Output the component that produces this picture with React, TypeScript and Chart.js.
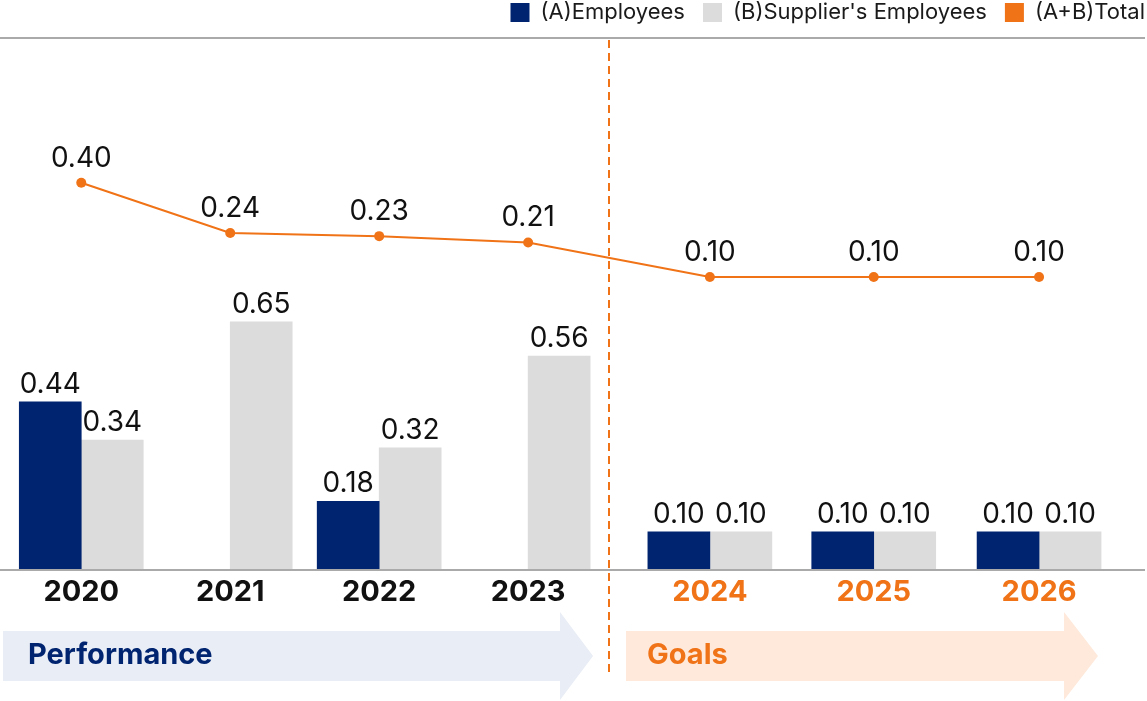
import React, { useEffect, useRef } from 'react';
import { Chart, registerables } from 'chart.js';

Chart.register(...registerables);

// ---- data ----
const categories = ['2020', '2021', '2022', '2023', '2024', '2025', '2026'];
const employees: (number | null)[] = [0.44, null, 0.18, null, 0.1, 0.1, 0.1];
const supplierEmployees: (number | null)[] = [0.34, 0.65, 0.32, 0.56, 0.1, 0.1, 0.1];
const totals: (number | null)[] = [0.4, 0.24, 0.23, 0.21, 0.1, 0.1, 0.1];
const seriesNames = ['(A)Employees', "(B)Supplier's Employees", '(A+B)Total'];
const phaseLabels = ['Performance', 'Goals'];
const performanceCount = 4;

// ---- layout (axis slots: performance years then goal years, wider spacing) ----
const slotPositions = [0, 1, 2, 3, 4.22, 5.32, 6.43];
const dividerAt = 3.54;
const CANVAS_W = 1147;
const CANVAS_H = 701;
const RIGHT_PAD = -16;
const X_MIN = -0.512;
const X_MAX = 7.121;

const NAVY = '#00246F';
const LIGHT = '#DCDCDC';
const ORANGE = '#F07317';
const RULE = '#AAAAAA';
const FONT = 'Inter';

const toPoints = (vals: (number | null)[]) =>
  vals.map((v, i) => ({ x: slotPositions[i], y: v }));

const valueLabels = {
  id: 'valueLabels',
  afterDatasetsDraw(chart: any) {
    const { ctx } = chart;
    ctx.save();
    ctx.font = `28px ${FONT}`;
    ctx.fillStyle = '#111111';
    ctx.textAlign = 'center';
    ctx.textBaseline = 'alphabetic';
    chart.data.datasets.forEach((ds: any, di: number) => {
      const meta = chart.getDatasetMeta(di);
      const isLine = ds.type === 'line';
      meta.data.forEach((el: any, i: number) => {
        const v = ds.data[i].y;
        if (v === null || v === undefined) return;
        const { x, y } = el.getProps(['x', 'y'], true);
        ctx.fillText(v.toFixed(2), x, y - (isLine ? 16 : 9));
      });
    });
    ctx.restore();
  },
};

function arrow(ctx: any, x0: number, headX: number, tipX: number, top: number, bottom: number, headTop: number, headBottom: number) {
  const mid = (headTop + headBottom) / 2;
  ctx.beginPath();
  ctx.moveTo(x0, top);
  ctx.lineTo(headX, top);
  ctx.lineTo(headX, headTop);
  ctx.lineTo(tipX, mid);
  ctx.lineTo(headX, headBottom);
  ctx.lineTo(headX, bottom);
  ctx.lineTo(x0, bottom);
  ctx.closePath();
  ctx.fill();
}

const decorations = {
  id: 'decorations',
  afterDraw(chart: any) {
    const { ctx, chartArea, scales } = chart;
    const w = CANVAS_W;
    const divider = Math.round(scales.x.getPixelForValue(dividerAt));
    const base = chartArea.bottom;
    const bandTop = base + 61;
    const bandBottom = base + 111;
    const headTop = base + 42;
    const headBottom = base + 130;
    ctx.save();
    // top rule and baseline
    ctx.fillStyle = RULE;
    ctx.fillRect(0, 37, w - 2, 2);
    ctx.fillRect(0, Math.round(base) - 1, w - 2, 2);
    // arrows
    ctx.fillStyle = '#E8EDF6';
    arrow(ctx, 3, divider - 49, divider - 16, bandTop, bandBottom, headTop, headBottom);
    ctx.fillStyle = '#FEE9DB';
    arrow(ctx, divider + 17, w - 83, w - 49, bandTop, bandBottom, headTop, headBottom);
    ctx.font = `bold 29px ${FONT}`;
    ctx.textBaseline = 'middle';
    ctx.textAlign = 'left';
    ctx.fillStyle = NAVY;
    ctx.fillText(phaseLabels[0], 28, (bandTop + bandBottom) / 2 - 1);
    ctx.fillStyle = ORANGE;
    ctx.fillText(phaseLabels[1], divider + 38, (bandTop + bandBottom) / 2 - 1);
    // divider
    ctx.strokeStyle = ORANGE;
    ctx.lineWidth = 2;
    ctx.setLineDash([8, 5]);
    ctx.beginPath();
    ctx.moveTo(divider, 40);
    ctx.lineTo(divider, base + 105);
    ctx.stroke();
    ctx.restore();
  },
};

export default function App() {
  const ref = useRef<HTMLCanvasElement | null>(null);

  useEffect(() => {
    if (!ref.current) return;
    const chart = new Chart(ref.current, {
      type: 'bar',
      data: {
        datasets: [
          {
            type: 'bar',
            label: seriesNames[0],
            data: toPoints(employees) as any,
            backgroundColor: NAVY,
            borderWidth: 0,
            barThickness: 62,
            yAxisID: 'y',
          },
          {
            type: 'bar',
            label: seriesNames[1],
            data: toPoints(supplierEmployees) as any,
            backgroundColor: LIGHT,
            borderWidth: 0,
            barThickness: 62,
            yAxisID: 'y',
          },
          {
            type: 'line',
            label: seriesNames[2],
            data: toPoints(totals) as any,
            borderColor: ORANGE,
            backgroundColor: ORANGE,
            borderWidth: 2,
            pointRadius: 5,
            pointBackgroundColor: ORANGE,
            pointBorderWidth: 0,
            tension: 0,
            yAxisID: 'y2',
          },
        ] as any,
      },
      options: {
        responsive: false,
        animation: false,
        layout: { padding: { top: -16.5, right: RIGHT_PAD, left: 0, bottom: 91 } },
        plugins: {
          legend: {
            position: 'top',
            align: 'end',
            labels: {
              boxWidth: 19,
              boxHeight: 19,
              padding: 18,
              color: '#1A1A1A',
              font: { family: FONT, size: 22 },
              generateLabels: (c: any) =>
                (Chart.defaults.plugins.legend.labels as any)
                  .generateLabels(c)
                  .map((l: any) => ({ ...l, lineWidth: 0 })),
            },
          },
          tooltip: { enabled: false },
        },
        scales: {
          x: {
            type: 'linear',
            min: X_MIN,
            max: X_MAX,
            offset: false,
            grid: { display: false, drawTicks: false },
            border: { display: false },
            afterBuildTicks: (s: any) => {
              s.ticks = slotPositions.map((v) => ({ value: v }));
            },
            afterFit: (s: any) => {
              s.height = 40;
            },
            ticks: {
              autoSkip: false,
              maxRotation: 0,
              padding: 5,
              font: { family: FONT, size: 29, weight: 'bold' },
              color: (c: any) => (c.index < performanceCount ? '#111111' : ORANGE),
              callback: (_v: any, i: number) => categories[i],
            },
          },
          y: { display: false, min: 0, max: 1.4045 },
          y2: { display: false, min: -0.8323, max: 0.8747 },
        },
      } as any,
      plugins: [valueLabels, decorations],
    });
    return () => chart.destroy();
  }, []);

  return (
    <div style={{ position: 'fixed', left: 0, top: 0, width: CANVAS_W, height: CANVAS_H, background: '#fff' }}>
      <canvas ref={ref} width={CANVAS_W} height={CANVAS_H} style={{ display: 'block' }} />
    </div>
  );
}
